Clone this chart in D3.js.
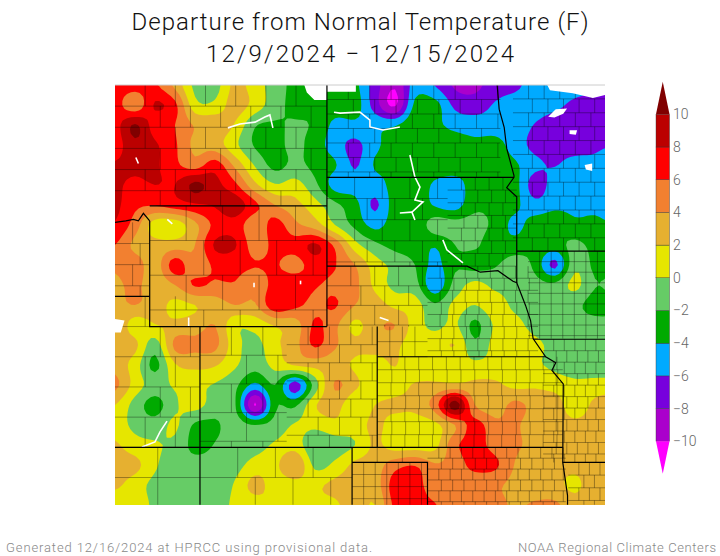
<!DOCTYPE html>
<html><head><meta charset="utf-8"><script src="https://cdn.jsdelivr.net/npm/d3@7"></script>
<style>html,body{margin:0;padding:0;background:#fff}svg{display:block}text{font-family:Roboto,"Liberation Sans",sans-serif;font-weight:300}</style></head><body>
<svg id="c" width="720" height="556"></svg>
<script>
const levels=[-10,-8,-6,-4,-2,0,2,4,6,8,10];
const bandColors=["#ff00ff","#aa00cc","#7700dd","#00aaff","#00aa00","#66cc66","#e6e600","#e6b030","#f28030","#ff0000","#bb0000","#800000"];
const tickLabels=["10","8","6","4","2","0","−2","−4","−6","−8","−10"];
const titleLines=["Departure from Normal Temperature (F)","12/9/2024 − 12/15/2024"];
const footLeft="Generated 12/16/2024 at HPRCC using provisional data.";
const footRight="NOAA Regional Climate Centers";
// gridded departures, north to south, west to east
const r00=[7,7,6.3,3.5,-0.5,-0.8,2.5,1,-1,-2.5,-2.5,-3,-3.5,-7,-9.8,-5,-6.1,-8.3,-8.5,-7,-6.5,-5,-4.5,-5,-5.5,-6];
const r01=[7,4.5,8.2,6.5,0.7,0.5,3,1.2,-1.2,-2.5,-2.5,-3,-3,-7,-10.3,-3.5,-3.3,-6.5,-7,-5.8,-5,-5,-5.5,-6.5,-7,-7];
const r02=[7.2,10.2,7,6,3.8,3.5,1.8,-1.8,-2.2,-1.8,-2.3,-4.5,-4.5,-4.5,-4.2,-2.5,-3.5,-4.6,-5,-5,-5,-6.1,-7,-7,-7.3,-7];
const r03=[7,9.5,8.3,6.3,3.5,3,0.5,-2.2,-2.6,-1.5,-3,-5,-6.5,-4.5,-3,-2.8,-2.8,-3,-3.5,-3.3,-4.9,-6.6,-7,-7.2,-6.4,-6];
const r04=[8.2,8.5,8.3,6.5,5,7,3.5,-0.2,-2.6,-1.5,-2.6,-3.8,-6.2,-3.8,-3.5,-3,-2.8,-3,-3,-3,-3.7,-5.5,-6.1,-5,-5.5,-5];
const r05=[8.3,7.6,8,8,10.5,8.7,6.5,2.5,0.2,0.8,-1.5,-4.8,-5,-5,-3.2,-2.8,-4.3,-4.8,-3,-2.5,-3.3,-7,-5,-4.8,-5,-5];
const r06=[8.5,6.5,6.2,7,7.7,8.2,9.2,6.5,4,2.7,0.8,-1.5,-3.3,-6.3,-3,-2.7,-4.2,-4.8,-2.5,-2.5,-3.5,-5.3,-4.5,-4.5,-4.5,-5];
const r07=[7.8,5,1,0.8,3.5,6.5,7.2,4.5,6.8,4.5,3,0,-2.5,-4.6,-3,-3.4,-1,-1.2,-1.3,-2.5,-4.5,-3,-2.5,-3.5,-3.5,-4];
const r08=[6,3.5,2.8,3,4,8.3,8.2,5,6.6,6.8,8.3,5.5,0.8,-1.5,-2.6,-3,-3.8,-2,-1.7,-3.2,-3.2,-2.5,-2.8,-1.5,-2.7,-3];
const r09=[4.5,5,3,7,4.5,6.4,6.6,6.1,6.2,5.2,7,6.1,4,1,-0.6,-2,-4.6,-2.3,-2.8,-2.2,-1,-2.5,-6.5,-0.5,-2.5,-2.5];
const r10=[3.5,4.5,2.8,4,6.2,5.7,5.8,4.5,6.8,7.3,6.2,5.5,4.5,1.5,-0.6,-1.2,-5.5,-1.2,0.5,-0.5,-1,-1.3,-1.5,0.5,-1.9,-1.5];
const r11=[3.5,4,3,1.5,2,3,4,3.8,7.5,6.5,5.5,6.2,4,3,1.5,1,-1.7,0.5,0,1,-0.5,-1.2,-1.2,-1.5,-2.8,-2.5];
const r12=[4,1,1.9,2.5,3,4,0.5,0.7,2.2,3,6.3,4.5,1.5,3.5,4,1,-0.5,0.3,-2.5,0.3,0.8,-1,-1.2,-1.2,-1.3,-1.5];
const r13=[3,2.5,-1,4.5,4.5,4.5,0.8,-0.6,1.5,3.3,6.3,4.3,2.5,3,2.5,0.8,1,2,-1.5,0.8,2,0.7,-0.8,-1.2,-1.4,-1.5];
const r14=[3.3,1,-2.5,1.8,2.5,2.2,0.3,-1.2,0.7,2.2,2.7,2.8,1.7,1,2.1,0.3,0.6,0.7,0.5,0.6,0.5,0.3,-0.5,-1.2,-1.3,-1.5];
const r15=[4.5,1.2,-0.9,0.3,0.5,-0.2,-1.5,-4.5,-2,-7,-1,4.2,2.4,0.8,1,2.2,2.4,2.4,2.5,2.4,1.5,1.7,1.2,0.5,0.8,1];
const r16=[2,-0.8,-2.8,-0.3,0.7,-1,-1.8,-10.2,-2.4,-2.4,1.8,2.8,0.5,2,2.5,2.6,5,11,4,3,4.5,3.3,3,0.8,2.5,3];
const r17=[1,-0.5,-1.1,0.3,-2.3,-2.3,-1.1,-2,-1.2,0.2,0.5,1.5,1,2.5,1,1,1.5,4,6.8,4.5,4.3,3,2.7,2.5,2.7,3];
const r18=[2.3,0.8,0.2,-0.5,-2.6,-1.9,-1,-0.9,0.3,1,-1.7,-1,0,2.3,1,1,1.4,5.5,6.8,5.2,4.3,3.5,2.8,2.6,2.6,2.8];
const r19=[3,2.6,0.3,-1.2,-1.3,-1.2,-0.7,0.8,1.5,4,-0.5,0.5,2.5,3,5.2,5.9,4.2,4.8,6.8,6.4,3.9,3.2,2.8,2.6,3.2,3];
const r20=[2.4,1,-0.6,-1.2,-1.3,-1.2,0.2,2.7,1,1.2,1.6,2.5,3.2,3,7,6.8,4.8,4.5,4.3,4.3,3.5,3,2.7,1.5,3.5,3.5];
const r21=[0.5,1.2,-0.5,-1.3,-1.3,-1,0.4,1,2,1,1.5,1.7,3,2,6.5,6.5,6.1,4.6,4.7,4.5,3.8,4.2,4.3,3,3.2,3];
const rows=[r00,r01,r02,r03,r04,r05,r06,r07,r08,r09,r10,r11,r12,r13,r14,r15,r16,r17,r18,r19,r20,r21];
// geography, [lon,lat]
const stateLines=[
 [[-104,49],[-104,43],[-104,41]],[[-111.05,45],[-104,45]],[[-104,45.94],[-96.56,45.94]],[[-104,43],[-98.43,43],[-97.9,42.8],[-97.2,42.85],[-96.6,42.5],[-96.45,42.45],[-96.1,41.7],[-95.9,41.2],[-95.8,40.6],[-95.3,40],[-94.9,39.8],[-95.05,39.55],[-94.6,39.1],[-94.62,36.5],[-94.43,35.4],[-94.43,35.1]],
 [[-111.05,44.5],[-111.05,41],[-104,41]],[[-102,41],[-102,37]],[[-102,40],[-95.3,40]],[[-109.05,41],[-109.05,35.1]],[[-112.43,37],[-94.62,37]],[[-112.43,42],[-111.05,42]],
 [[-103,37],[-103,35.1]],[[-103,36.5],[-100,36.5],[-100,35.1]],[[-94.62,36.5],[-92.94,36.5]],[[-95.8,40.58],[-92.94,40.58]],[[-96.45,43.5],[-92.94,43.5]],
 [[-97.23,49],[-97.15,48.2],[-96.95,47.6],[-96.85,46.9],[-96.56,46],[-96.56,45.94],[-96.85,45.6],[-96.45,45.3],[-96.45,42.45]],
 [[-112.43,44.45],[-112,44.5],[-111.7,44.55],[-111.5,44.5],[-111.3,44.75],[-111.05,44.5]]];
const waterLines=[
 [[-107.94,47.58],[-107.46,47.71],[-106.86,47.77],[-106.47,47.94],[-106.27,48.01],[-106.15,47.58]],
 [[-103.72,48.1],[-103.48,48.07],[-102.69,48.1],[-102.29,47.84],[-102.29,47.61],[-101.77,47.51],[-101.1,47.61]],
 [[-100.7,46.68],[-100.5,45.95],[-100.3,45.62],[-100.5,45.19],[-100.18,45.13],[-100.62,44.79],[-100.5,44.53]],[[-101.1,44.76],[-100.62,44.79]],
 [[-99.39,43.87],[-99.23,43.54],[-98.59,43.11]],
 [[-111.36,37.01],[-110.84,37.18],[-110.64,37.51],[-110.36,37.87]],
 [[-110.35,44.55],[-110.15,44.4]],[[-111.6,46.6],[-111.5,46.4]],[[-109.5,41.3],[-109.5,41]],[[-101.9,41.3],[-101.55,41.2]],[[-106.9,42.45],[-106.9,42.3]],[[-105.05,42.52],[-105.05,42.4]]];
const blanks=[
 [[-104.9,49],[-102.85,49],[-102.85,48.78],[-104,48.78],[-104,48.5],[-104.5,48.5],[-104.8,48.75]],
 [[-95.25,49.02],[-95.13,48.83],[-94.22,48.73],[-93.42,48.57],[-92.94,48.67],[-92.94,49.02]],
 [[-95.2,47.95],[-94.9,48.2],[-94.45,48.22],[-94.6,48.05],[-94.95,47.92]],
 [[-94.35,47.5],[-94.05,47.5],[-94.1,47.35],[-94.35,47.38]],[[-93.75,46.35],[-93.45,46.4],[-93.45,46.15],[-93.7,46.2]],
 [[-112.43,41.25],[-112.05,41.2],[-112.2,40.8],[-112.43,40.8]]];
// county blocks: lonW,lonE,latN,latS,lonStep,latStep,stagger
const countyBlocks=[
 [-102,-94.62,40,37,.55,.43,.03],[-100,-95.6,43,40,.5,.4,.05],[-104,-100,43,41,.95,.65,.4],[-102,-100,41,40,.5,.5,0],
 [-99.2,-96.45,45.94,43,.55,.42,.1],[-104,-99.2,45.94,43,1.1,.7,.5],[-104,-97.1,49,45.94,.85,.48,.2],
 [-96.6,-92.94,49,43.5,.62,.46,.15],[-96,-92.94,43.5,40.6,.46,.35,0],[-95.4,-92.94,40.58,36.5,.42,.38,.1],
 [-100,-94.5,37,35.1,.45,.36,.1],[-103,-100,37,36.5,1,.5,0],[-103,-100,36.5,35.1,.46,.4,0],[-94.4,-92.94,36.5,35.1,.42,.42,.2],
 [-105.6,-102,41,37,.85,.6,.4],[-109.05,-105.6,41,37,1.25,.95,.6],[-111.05,-104,45,41,1.45,1.15,.7],[-112.43,-109.05,42,37,1.2,1,.6],
 [-112.43,-104,49,45,1.2,.7,.6],[-109.05,-103,37,35.1,1.5,1,.7],[-112.43,-109.05,37,35.1,1.7,1,0],[-112.43,-111.05,44.45,42,.7,.7,.3]];

const box={l:115,r:605,t:85,b:505};
const x=d3.scaleLinear().domain([-112.43,-92.94]).range([box.l,box.r]);
const y=d3.scaleLinear().domain([49,35.09]).range([box.t,box.b]);
const svg=d3.select("#c");
svg.append("defs").append("clipPath").attr("id","m").append("rect").attr("x",box.l).attr("y",box.t).attr("width",box.r-box.l).attr("height",box.b-box.t);
// render-time cubic smoothing of the contour surface (passes through every read value)
const K=5,ny=rows.length,nx=rows[0].length;
function cr(a,b,c,d,t){return .5*(2*b+(c-a)*t+(2*a-5*b+4*c-d)*t*t+(3*b-a-3*c+d)*t*t*t);}
const at=(j,i)=>rows[Math.max(0,Math.min(ny-1,j))][Math.max(0,Math.min(nx-1,i))];
const NX=(nx-1)*K+1,NY=(ny-1)*K+1,fine=new Float64Array(NX*NY);
for(let J=0;J<NY;J++){const j=Math.floor(J/K),v=J/K-j;
 for(let I=0;I<NX;I++){const i=Math.floor(I/K),u=I/K-i;
  const col=[-1,0,1,2].map(o=>cr(at(j+o,i-1),at(j+o,i),at(j+o,i+1),at(j+o,i+2),u));
  fine[J*NX+I]=cr(col[0],col[1],col[2],col[3],v);}}
const gx=d3.scaleLinear().domain([.5,NX-.5]).range([115,615]);
const gy=d3.scaleLinear().domain([.5,NY-.5]).range([85,505]);
const map=svg.append("g").attr("clip-path","url(#m)");
map.append("rect").attr("x",box.l).attr("y",box.t).attr("width",box.r-box.l).attr("height",box.b-box.t).attr("fill",bandColors[0]);
const path=d3.geoPath(d3.geoTransform({point(a,b){this.stream.point(gx(a),gy(b));}}));
d3.contours().size([NX,NY]).thresholds(levels)(Array.from(fine)).forEach((c,i)=>map.append("path").attr("d",path(c)).attr("fill",bandColors[i+1]));
const geo=d3.line().x(d=>x(d[0])).y(d=>y(d[1]));
const cg=map.append("g").attr("fill","none").attr("stroke","#000").attr("stroke-opacity",.45).attr("stroke-width",.75);
countyBlocks.forEach(([w,e,n,s,dx,dy,st])=>{
  d3.range(n,s-1e-6,-dy).forEach((la,r)=>{
    if(r>0)cg.append("path").attr("d",geo([[w,la],[e,la]]));
    const bot=Math.max(s,la-dy);
    d3.range(w+dx+(r%2?st:0),e-.05,dx).forEach(lo=>cg.append("path").attr("d",geo([[lo,la],[lo,bot]])));
  });
});
map.selectAll(".bl").data(blanks).join("path").attr("d",d=>geo(d)+"Z").attr("fill","#fff");
map.selectAll(".w").data(waterLines).join("path").attr("d",geo).attr("fill","none").attr("stroke","#fff").attr("stroke-width",1.6);
map.selectAll(".s").data(stateLines).join("path").attr("d",geo).attr("fill","none").attr("stroke","#000").attr("stroke-width",1.2);
svg.append("line").attr("x1",box.l).attr("x2",box.r).attr("y1",box.t).attr("y2",box.t).attr("stroke","#ccc");

titleLines.forEach((t,i)=>svg.append("text").text(t).attr("x",360).attr("y",[30,62][i]).attr("text-anchor","middle").attr("font-size",24).attr("fill","#111").attr("textLength",[457,308][i]).attr("lengthAdjust","spacing"));
svg.append("text").text(footLeft).attr("x",6).attr("y",552).attr("font-size",13).attr("fill","#888").attr("textLength",366).attr("lengthAdjust","spacing");
svg.append("text").text(footRight).attr("x",518).attr("y",552).attr("font-size",13).attr("fill","#888").attr("textLength",198).attr("lengthAdjust","spacing");

const ly=d3.scaleLinear().domain([10,-10]).range([114.3,441.3]);
const lx0=656,lx1=669.5;
const lg=svg.append("g");
const step=ly(8)-ly(10);
levels.slice(0,-1).forEach((v,i)=>lg.append("rect").attr("x",lx0).attr("width",lx1-lx0).attr("y",ly(levels[i+1])).attr("height",step).attr("fill",bandColors[i+1]).attr("stroke","#333").attr("stroke-width",.4));
lg.append("path").attr("d",d3.line()([[lx0,ly(10)],[(lx0+lx1)/2,ly(10)-32.5],[lx1,ly(10)]])+"Z").attr("fill",bandColors[11]);
lg.append("path").attr("d",d3.line()([[lx0,ly(-10)],[(lx0+lx1)/2,ly(-10)+32.5],[lx1,ly(-10)]])+"Z").attr("fill",bandColors[0]);
const ax=d3.axisRight(ly).tickValues(levels).tickSize(0).tickPadding(0).tickFormat((d,i)=>tickLabels[10-i]);
const ag=svg.append("g").attr("transform","translate(673,0)").call(ax);
ag.select(".domain").remove();
ag.selectAll("text").attr("font-size",14).attr("fill","#666").attr("font-family","Roboto");
</script></body></html>
